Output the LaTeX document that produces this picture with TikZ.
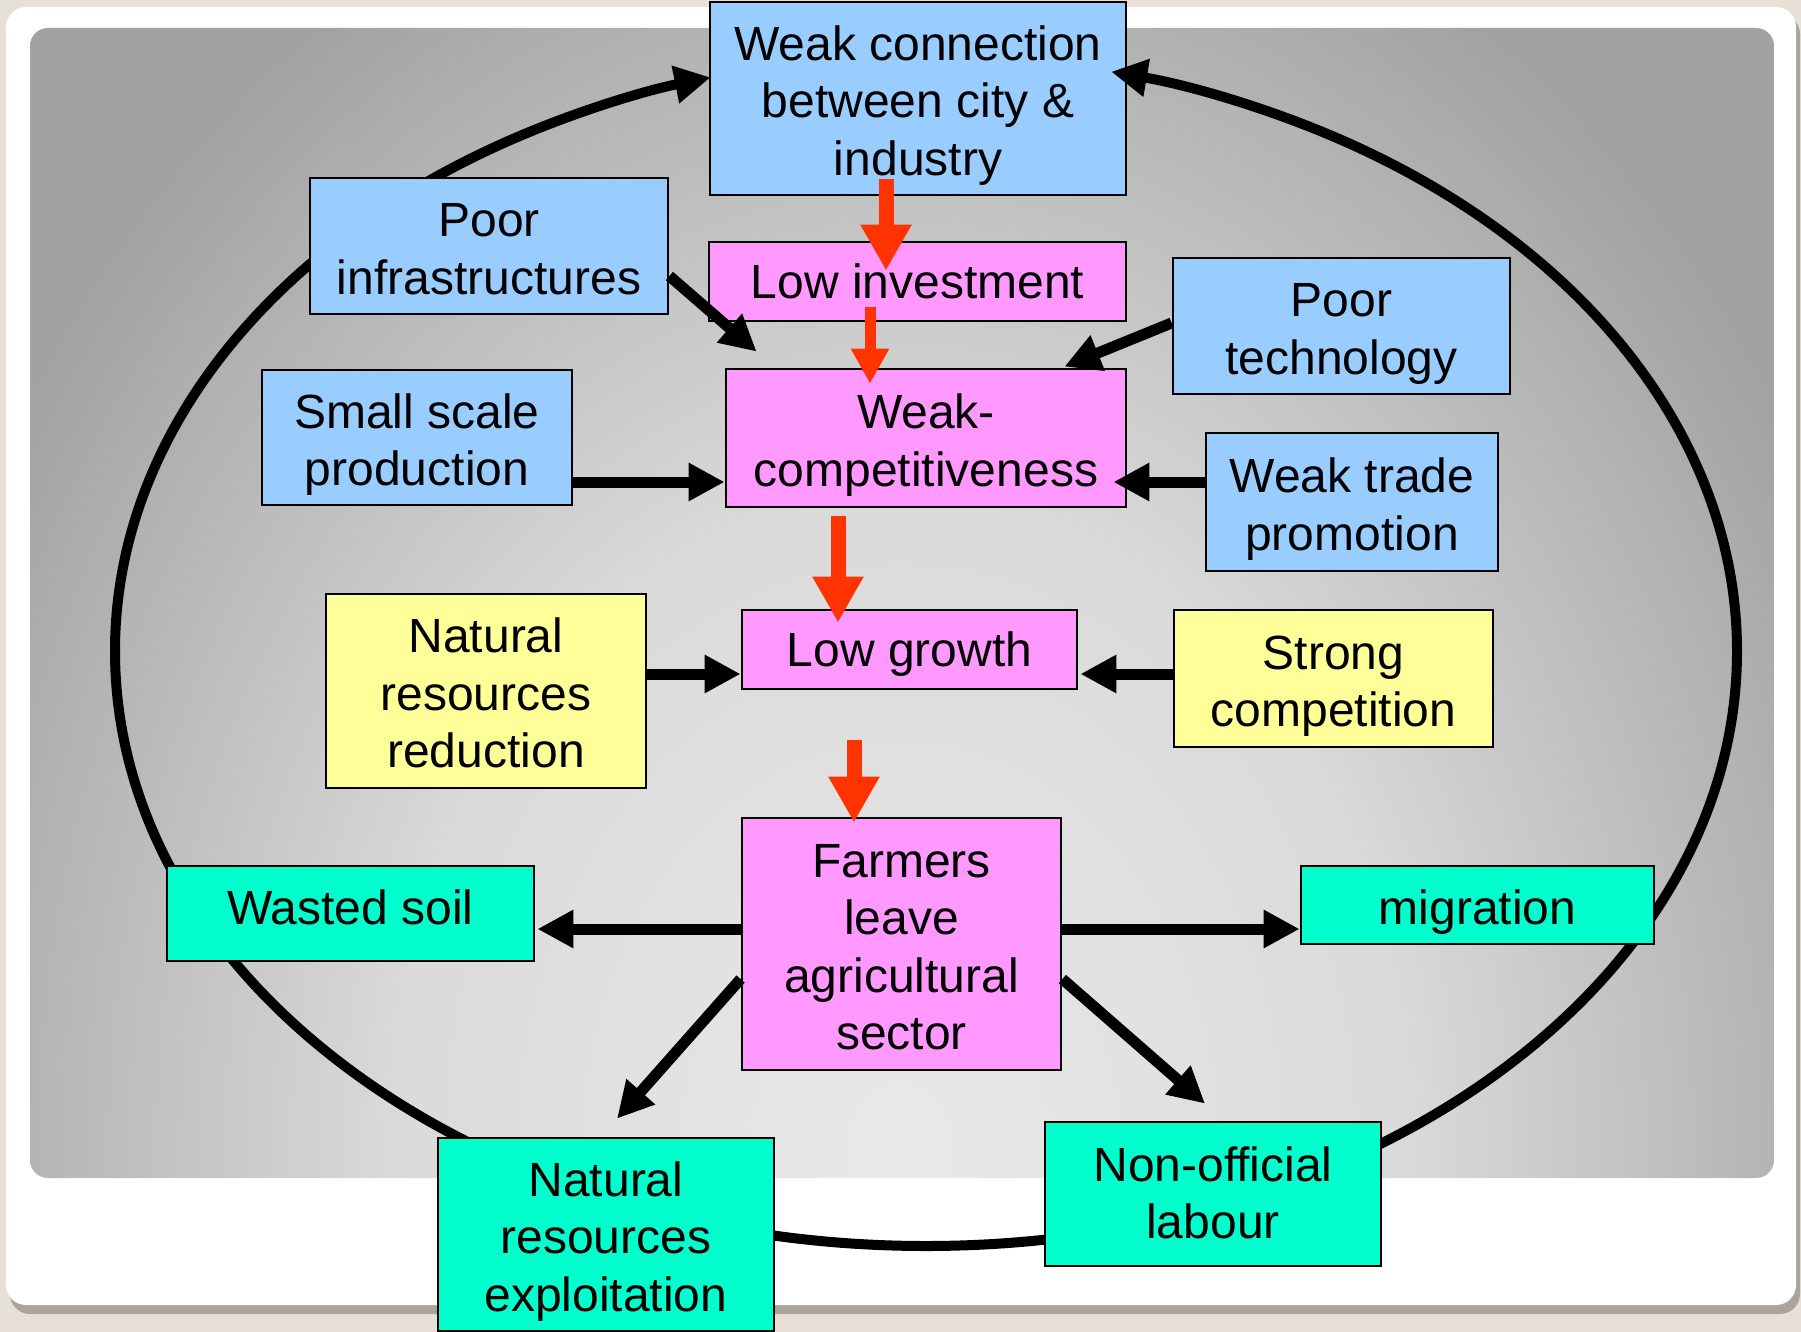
\documentclass[tikz,border=0pt]{standalone}
\usepackage{fontspec}
\setmainfont{Liberation Sans}
\usetikzlibrary{arrows.meta,calc}

\definecolor{pagebeige}{HTML}{E6E0D6}
\definecolor{shadowgrey}{HTML}{A9A699}
\definecolor{boxblue}{HTML}{99CCFF}
\definecolor{boxpink}{HTML}{FF99FF}
\definecolor{boxyellow}{HTML}{FFFF99}
\definecolor{boxaqua}{HTML}{00FFCC}
\definecolor{arrowred}{HTML}{FF3300}
\definecolor{bgmid}{HTML}{E9E9E9}
\definecolor{bghalf}{HTML}{DADADA}
\definecolor{bgedge}{HTML}{A2A2A2}

\pgfdeclareradialshading{slidebg}{\pgfpoint{0bp}{0bp}}{color(0bp)=(bgmid); color(12bp)=(bghalf); color(25bp)=(bgedge); color(50bp)=(bgedge)}

% struts with the ascent and descent of the font, so lines sit as in the slide
\newcommand\boxstrut{\rule[-10.2pt]{0pt}{53.6pt}}
\newcommand\topstrut[1][49pt]{\rule{0pt}{#1}}

\tikzset{
	box/.style={draw=black, line width=2.8pt, inner sep=0pt, align=center, font=\fontsize{48}{57.5}\selectfont,
		execute at begin node=\boxstrut, execute at end node=\boxstrut},
	textdown/.style={execute at begin node={\rule[-10.2pt]{0pt}{#1}}},
	textup/.style={execute at end node={\rule[-#1]{0pt}{0pt}}},
	bluebox/.style={box, fill=boxblue},
	pinkbox/.style={box, fill=boxpink},
	yellowbox/.style={box, fill=boxyellow},
	aquabox/.style={box, fill=boxaqua},
	redarrow/.style={draw=arrowred, line width=15pt, -{Triangle[length=46pt,width=48pt]}},
	redarrowthin/.style={draw=arrowred, line width=11pt, -{Triangle[length=35pt,width=36pt]}},
	blackarrow/.style={draw=black, line width=11pt, -{Triangle[length=36pt,width=36pt]}},
	loopline/.style={draw=black, line width=10pt},
}

\begin{document}
\begin{tikzpicture}[x=1pt, y=-1pt]
		%%%%% START %%%%%
		\useasboundingbox (0,0) rectangle (1801,1332);
		
		\fill[pagebeige] (0,0) rectangle (1801,1332);
		\fill[shadowgrey, rounded corners=20pt] (10,14) rectangle (1800,1314);
		\fill[white, rounded corners=20pt] (6,7) rectangle (1796,1305);
		\begin{scope}
			\clip[rounded corners=18pt] (30,28) rectangle (1774,1178);
			\shade[shading=slidebg] (-150,-200) rectangle (1950,2500);
		\end{scope}
		
		% the big loop, behind the boxes
		\coordinate (loopc) at (926,651);
		\coordinate (loopbot) at (926,1246);
		\draw[loopline] (loopbot) arc[start angle=90, end angle=240, x radius=811, y radius=595];
		\draw[loopline] (loopbot) arc[start angle=90, end angle=-60, x radius=811, y radius=595];
		
		\node[bluebox, minimum width=416pt, minimum height=193pt] (wc) at (918,98.5) {\topstrut Weak connection\\between city \&\\industry};
		\node[pinkbox, minimum width=417pt, minimum height=79pt] (li) at (917.5,281.5) {Low investment};
		\node[pinkbox, minimum width=400pt, minimum height=138pt] (wcp) at (926,438) {\topstrut Weak-\\competitiveness};
		\node[bluebox, minimum width=358pt, minimum height=136pt] (pi) at (489,246) {\topstrut Poor\\infrastructures};
		\node[bluebox, minimum width=310pt, minimum height=135pt] (ssp) at (417,437.5) {\topstrut Small scale\\production};
		\node[bluebox, minimum width=337pt, minimum height=136pt] (pt) at (1341.5,326) {\topstrut Poor\\technology};
		\node[bluebox, minimum width=292pt, minimum height=138pt] (wtp) at (1352,502) {\topstrut Weak trade\\promotion};
		\node[yellowbox, minimum width=320pt, minimum height=194pt] (nrr) at (486,691) {\topstrut Natural\\resources\\reduction};
		\node[pinkbox, minimum width=335pt, minimum height=79pt] (lg) at (909.5,649.5) {Low growth};
		\node[yellowbox, minimum width=319pt, minimum height=137pt] (sc) at (1333.5,678.5) {\topstrut Strong\\competition};
		\node[pinkbox, minimum width=319pt, minimum height=252pt] (fl) at (901.5,944) {\topstrut Farmers\\leave\\agricultural\\sector};
		\node[aquabox, textup=22pt, minimum width=367pt, minimum height=95pt] (ws) at (350.5,913.5) {Wasted soil};
		\node[aquabox, textdown=59.6pt, minimum width=353pt, minimum height=78pt] (mig) at (1477.5,905) {migration};
		\node[aquabox, minimum width=336pt, minimum height=193pt] (nre) at (606,1234.5) {\topstrut Natural\\resources\\exploitation};
		\node[aquabox, minimum width=336pt, minimum height=144pt] (nol) at (1213,1194) {\topstrut[42pt]Non-official\\labour};
		
		% loop ends, over the top box
		\draw[loopline, -{Triangle[length=36pt,width=36pt]}] ($(loopc)+(240:811 and 595)$) arc[start angle=240, end angle=254.6, x radius=811, y radius=595];
		\draw[loopline, -{Triangle[length=36pt,width=36pt]}] ($(loopc)+(-60:811 and 595)$) arc[start angle=-60, end angle=-76.8, x radius=811, y radius=595];
		
		\draw[redarrow] ($(wc.south)+(-32,-17)$) -- ($(li.north)+(-31.5,30)$);
		\draw[redarrowthin] ($(li.south)+(-47.5,-15)$) -- ($(wcp.north)+(-56,16)$);
		\draw[redarrow] ($(wcp.south)+(-88,8)$) -- ($(lg.north)+(-71.5,14)$);
		\draw[redarrow] ($(lg.south)+(-55.5,50)$) -- ($(fl.north)+(-47.5,6)$);
		
		\draw[blackarrow] ($(pi.east)+(0,30)$) -- ($(wcp.north west)+(32,-16)$);
		\draw[blackarrow] ($(ssp.east)+(0,44.5)$) -- ($(wcp.west)+(0,44)$);
		\draw[blackarrow] ($(pt.west)+(0,-3)$) -- ($(wcp.north east)+(-63,-1)$);
		\draw[blackarrow] ($(wtp.west)+(0,-20)$) -- ($(wcp.east)+(-14,44)$);
		\draw[blackarrow] ($(nrr.east)+(0,-17)$) -- ($(lg.west)+(0,24.5)$);
		\draw[blackarrow] ($(sc.west)+(0,-4.5)$) -- ($(lg.east)+(2,24.5)$);
		\draw[blackarrow] ($(fl.west)+(0,-15)$) -- ($(ws.east)+(2,15.5)$);
		\draw[blackarrow] ($(fl.east)+(0,-15)$) -- ($(mig.west)+(0,24)$);
		\draw[blackarrow] ($(fl.west)+(0,35)$) -- ($(nre.north)+(11,-18)$);
		\draw[blackarrow] ($(fl.east)+(0,35)$) -- ($(nol.north)+(-8,-17)$);
		
		%%%%% END %%%%%
\end{tikzpicture}
\end{document}
